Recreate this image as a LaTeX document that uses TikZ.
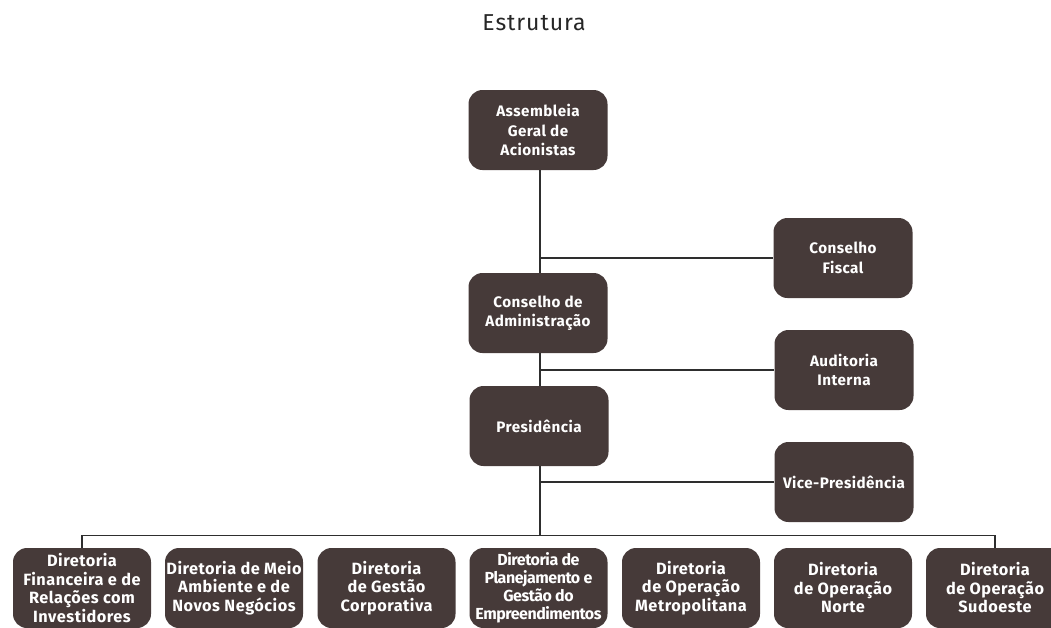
\documentclass[tikz,border=0pt]{standalone}
\usepackage{fontspec}
\setmainfont{Fira Sans}
\usetikzlibrary{calc}
\definecolor{boxfill}{HTML}{463A39}
\definecolor{linec}{HTML}{2E2E2E}
\tikzset{
  orgbox/.style={draw=none, fill=boxfill, rounded corners=14pt, minimum width=139pt, minimum height=80pt,
     text=white, font=\bfseries\fontsize{15.2}{19.5}\selectfont\addfontfeature{LetterSpace=3}, align=center, inner sep=1pt},
  lowbox/.style={orgbox, font=\bfseries\fontsize{16.3}{18.5}\selectfont\addfontfeature{LetterSpace=3}, minimum width=138pt},
  conn/.style={draw=linec, line width=1.3pt}
}
\begin{document}
\begin{tikzpicture}[x=1pt,y=-1pt]
\useasboundingbox (0,0) rectangle (1051,627);
\node[font=\fontsize{23}{26}\selectfont\addfontfeature{LetterSpace=4}, text=black!85] (title) at (534,23) {Estrutura};
\node[orgbox] (asm) at (538,130) {Assembleia\\Geral de\\Acionistas};
\node[orgbox] (cf) at (843,258) {Conselho\\Fiscal};
\node[orgbox] (ca) at (538,313) {Conselho de\\Administração};
\node[orgbox] (ai) at (844,370) {Auditoria\\Interna};
\node[orgbox] (pr) at (539,426) {Presidência};
\node[orgbox] (vp) at (844,482) {Vice-Presidência};
\node[lowbox] (b1) at (82,588) {Diretoria\\Financeira e de\\Relações com\\Investidores};
\node[lowbox] (b2) at (234,588) {Diretoria de Meio\\Ambiente e de\\Novos Negócios};
\node[lowbox] (b3) at (386.5,588) {Diretoria\\de Gestão\\Corporativa};
\node[lowbox, font=\bfseries\fontsize{16}{18}\selectfont\addfontfeature{LetterSpace=-3}] (b4) at (538.5,588) {Diretoria de\\Planejamento e\\Gestão do\\Empreendimentos};
\node[lowbox] (b5) at (691,588) {Diretoria\\de Operação\\Metropolitana};
\node[lowbox] (b6) at (843,588) {Diretoria\\de Operação\\Norte};
\node[lowbox] (b7) at (995,588) {Diretoria\\de Operação\\Sudoeste};
\coordinate (bus) at ($(b1.north)+(0,-12)$);
\coordinate (busR) at ($(b7.north)+(0,-12)$);
\coordinate (spine) at (540,0);
\draw[conn] (asm.south -| spine) -- (ca.north -| spine);
\draw[conn] (ca.south -| spine) -- (pr.north -| spine);
\draw[conn] (pr.south -| spine) -- (bus -| spine);
\draw[conn] (cf.west -| spine) -- (cf.west);
\draw[conn] (ai.west -| spine) -- (ai.west);
\draw[conn] (vp.west -| spine) -- (vp.west);
\draw[conn] (b1.north) -- (bus) -- (busR) -- (b7.north);
\end{tikzpicture}
\end{document}
